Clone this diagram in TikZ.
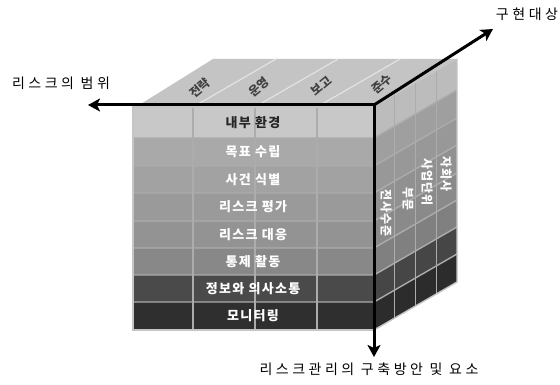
\documentclass[tikz,border=0pt]{standalone}
\usepackage{fontspec}
\newfontfamily\kr{Noto Sans CJK KR}
\newfontfamily\krs[LetterSpace=25]{Noto Sans CJK KR}
\newfontfamily\krf[LetterSpace=10]{Noto Sans CJK KR}
\usetikzlibrary{arrows.meta}
\definecolor{topf}{HTML}{C4C4C4}
\definecolor{topln}{HTML}{E2E2E2}
\definecolor{gridc}{HTML}{ACACAC}
\begin{document}
\begin{tikzpicture}[x=1pt,y=-1pt,
  axis/.style={line width=3pt,-{Stealth[length=12pt,width=13pt,inset=3pt]}},
  frontlbl/.style={font=\krf\bfseries\fontsize{13}{13}\selectfont,text=white,inner sep=0pt},
  sidelbl/.style={font=\krf\bfseries\fontsize{12}{12}\selectfont,text=white,rotate=-90,inner sep=0pt},
  toplbl/.style={font=\kr\bfseries\fontsize{12}{12}\selectfont,text=black!75,rotate=40,inner sep=0pt},
  outlbl/.style={font=\krs\fontsize{14}{14}\selectfont,inner sep=0pt},
  gridln/.style={draw=gridc,line width=1.4pt},
  topsep/.style={draw=topln,line width=1.2pt}]
\fill[white] (0,0) rectangle (560,385);
\useasboundingbox (0,0) rectangle (560,385);
\def\rowY{{107,138,166,193,221,248,275,302,330}}
\def\rowC{{"C8C8C8","A9A9A9","A2A2A2","9A9A9A","939393","888888","4A4A4A","2F2F2F"}}
\def\colX{{133,193,255,317,374}}
% top face
\fill[topf] (136,107) -- (374,107) -- ++(83,-48) -- (213,59) -- cycle;
\foreach \j in {1,2,3} {
  \pgfmathsetmacro\xa{\colX[\j]}
  \draw[topsep] (\xa,107) -- ++(83,-48);
}
% front face and right face cells
\foreach \i in {0,...,7} {
  \pgfmathsetmacro\ya{\rowY[\i]}
  \pgfmathsetmacro\yb{\rowY[\i+1]}
  \pgfmathsetmacro\cc{\rowC[\i]}
  \definecolor{cur}{HTML}{\cc}
  \fill[cur] (133,\ya) rectangle (374,\yb);
  \foreach \k in {0,1,2,3} {
    \fill[cur!94!black] (374+20.75*\k,\ya-12*\k) -- (374+20.75*\k+20.75,\ya-12*\k-12)
      -- (374+20.75*\k+20.75,\yb-12*\k-12) -- (374+20.75*\k,\yb-12*\k) -- cycle;
  }
}
% grid lines
\foreach \i in {1,...,7} {
  \pgfmathsetmacro\ya{\rowY[\i]}
  \draw[gridln] (133,\ya) -- (374,\ya) -- ++(83,-48);
}
\foreach \j in {1,2,3} {
  \pgfmathsetmacro\xa{\colX[\j]}
  \draw[gridln] (\xa,107) -- (\xa,330);
  \draw[gridln] (374+20.75*\j,107-12*\j) -- (374+20.75*\j,330-12*\j);
}
\draw[gridln,draw=gridc!70!white] (133,107) rectangle (374,330);
\draw[gridln,draw=gridc!70!white] (374,330) -- (457,282) -- (457,59);
% front labels
\node[frontlbl,text=black!85] (n1) at (253,123) {내부 환경};
\node[frontlbl] (n2) at (253,152) {목표 수립};
\node[frontlbl] (n3) at (253,179.5) {사건 식별};
\node[frontlbl] (n4) at (253,207) {리스크 평가};
\node[frontlbl] (n5) at (253,234.5) {리스크 대응};
\node[frontlbl] (n6) at (253,261.5) {통제 활동};
\node[frontlbl] (n7) at (253,288.5) {정보와 의사소통};
\node[frontlbl] (n8) at (253,316) {모니터링};
% side labels
\node[sidelbl] (s1) at (386,213) {전사수준};
\node[sidelbl] (s2) at (408,199) {부문};
\node[sidelbl] (s3) at (427,182) {사업단위};
\node[sidelbl] (s4) at (446,174) {자회사};
% top labels
\node[toplbl] (t1) at (200,88) {전략};
\node[toplbl] (t2) at (259,87) {운영};
\node[toplbl] (t3) at (321,86) {보고};
\node[toplbl] (t4) at (382,84) {준수};
% axes
\coordinate (O) at (374,105);
\coordinate (L) at (88,105);
\coordinate (D) at (374,357);
\coordinate (U) at (493,29);
\draw[axis] (O) -- (L);
\draw[axis] (O) -- (D);
\draw[axis] (O) -- (U);
% outer labels
\node[outlbl] (scope) at (61,83) {리스크의 범위};
\node[outlbl] (impl) at (527,14) {구현대상};
\node[outlbl] (elem) at (369,369) {리스크관리의 구축방안 및 요소};
\end{tikzpicture}
\end{document}
